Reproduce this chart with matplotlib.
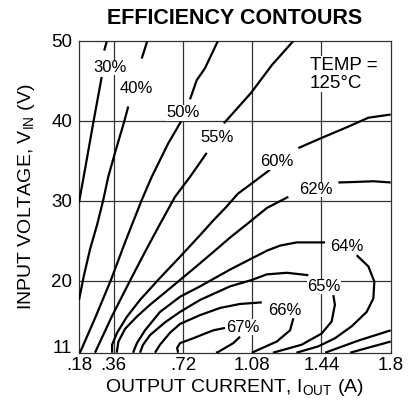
import numpy as np
import matplotlib.pyplot as plt

plt.rcParams['font.family'] = ['Liberation Sans', 'DejaVu Sans']

nan = np.nan

# contour traces: output current (A) vs input voltage (V)
# nan marks the break where the contour label sits
cur_30 = [0.325, 0.311, nan, 0.298, 0.256, 0.211, 0.18]
vin_30 = [50.0, 48.8, nan, 45.5, 40.0, 33.9, 29.8]

cur_40 = [0.535, 0.506, nan, 0.436, 0.416, 0.367, 0.332, 0.306, 0.274, 0.237, 0.206, 0.18]
vin_40 = [50.0, 47.8, nan, 41.8, 40.0, 36.0, 33.0, 30.1, 27.0, 23.9, 20.7, 17.6]

cur_50 = [0.902, 0.835, 0.792, 0.757, nan, 0.712, 0.644, 0.558, 0.506, 0.424, 0.346, 0.263, 0.185]
vin_50 = [50.0, 46.6, 45.1, 42.7, nan, 40.0, 37.2, 33.0, 30.1, 25.1, 20.1, 15.3, 11.0]

cur_55 = [1.294, 1.183, 1.074, 0.933, nan, 0.844, 0.757, 0.679, 0.601, 0.523, 0.445, 0.352, 0.263]
vin_55 = [50.0, 47.0, 43.5, 39.7, nan, 36.0, 33.0, 30.5, 27.1, 23.6, 20.0, 15.6, 11.0]

cur_60 = [1.80, 1.684, 1.562, 1.424, 1.320, nan, 1.173, 1.079, 1.006, 0.944, 0.876, 0.809,
          0.705, 0.591, 0.497, 0.429, 0.378, 0.352, 0.352]
vin_60 = [40.8, 40.4, 39.1, 37.7, 36.6, nan, 33.9, 32.2, 30.9, 29.2, 27.5, 25.7,
          23.0, 20.1, 17.6, 15.5, 13.5, 12.0, 11.0]

cur_62 = [1.80, 1.71, 1.60, 1.528, nan, 1.268, 1.156, 1.069, 0.970, 0.878, 0.790, 0.705,
          0.620, 0.549, 0.480, 0.42, 0.385, 0.376]
vin_62 = [32.3, 32.45, 32.35, 32.3, nan, 30.5, 29.1, 27.4, 25.5, 23.6, 21.8, 20.1,
          18.4, 17.0, 15.5, 14.0, 12.4, 11.0]

cur_64 = [0.461, 0.481, 0.523, 0.601, 0.705, 0.809, 0.965, 1.078, 1.160, 1.225, 1.311, 1.459, nan,
          1.623, 1.684, 1.715, 1.71, 1.675, 1.597, 1.510, 1.424, 1.31]
vin_64 = [11.0, 12.2, 13.8, 16.1, 18.0, 19.3, 21.4, 22.8, 23.8, 24.4, 24.8, 24.8, nan,
          23.2, 21.8, 19.9, 17.8, 16.1, 14.3, 12.8, 11.8, 11.0]

cur_65 = [0.497, 0.513, 0.549, 0.627, 0.705, 0.809, 0.965, 1.078, 1.156, 1.26, 1.372, nan,
          1.502, 1.51, 1.493, 1.441, 1.337, 1.188]
vin_65 = [11.0, 12.0, 13.2, 14.8, 16.1, 17.6, 19.3, 20.1, 20.8, 21.0, 20.7, nan,
          18.2, 17.0, 14.9, 13.4, 12.0, 11.0]

cur_66 = [0.575, 0.601, 0.653, 0.705, 0.809, 0.913, 1.017, 1.130, nan,
          1.294, 1.277, 1.208, 1.078]
vin_66 = [11.0, 12.0, 13.5, 14.6, 15.7, 16.6, 17.1, 17.3, nan,
          15.3, 13.8, 12.4, 11.0]

cur_67 = [0.695, 0.69, 0.705, 0.773, 0.835, 0.878, 0.939, nan, 1.017, 0.982, 0.904, 0.892]
vin_67 = [11.0, 11.6, 12.2, 12.8, 13.4, 13.8, 14.1, nan, 13.0, 12.2, 11.1, 11.0]

# unlabelled contours in the lower right corner
cur_62b = [1.459, 1.63, 1.80]
vin_62b = [11.0, 12.5, 13.8]
cur_60b = [1.589, 1.80]
vin_60b = [11.0, 12.4]

level_text = ['30%', '40%', '50%', '55%', '60%', '62%', '64%', '65%', '66%', '67%']
xticks = [0.18, 0.36, 0.72, 1.08, 1.44, 1.8]
xtick_labels = ['.18', '.36', '.72', '1.08', '1.44', '1.8']
yticks = [11, 20, 30, 40, 50]

fig = plt.figure(figsize=(4.14, 4.01), dpi=100)
ax = fig.add_axes([0.1908, 0.1204, 0.7529, 0.7774])

# grid
for gx in xticks[1:-1]:
    ax.axvline(gx, color='#333333', lw=0.9, zorder=1)
for gy in yticks[1:-1]:
    ax.axhline(gy, color='#333333', lw=0.9, zorder=1)

traces = [(cur_30, vin_30), (cur_40, vin_40), (cur_50, vin_50), (cur_55, vin_55),
          (cur_60, vin_60), (cur_62, vin_62), (cur_64, vin_64), (cur_65, vin_65),
          (cur_66, vin_66), (cur_67, vin_67), (cur_62b, vin_62b), (cur_60b, vin_60b)]
for xs, ys in traces:
    ax.plot(xs, ys, color='black', lw=1.6, solid_capstyle='butt',
            solid_joinstyle='round', zorder=3)

# label spots for each contour (current, voltage)
label_spots = [(0.341, 46.7), (0.48, 44.0), (0.719, 41.0), (0.90, 37.9), (1.207, 34.9),
               (1.41, 31.4), (1.571, 24.3), (1.453, 19.3), (1.25, 16.3), (1.034, 14.2)]
for txt, (lx, ly) in zip(level_text, label_spots):
    ax.text(lx, ly, txt, ha='center', va='center', fontsize=12, zorder=4,
            bbox=dict(facecolor='white', edgecolor='none', pad=0.3))

ax.text(1.381, 48.0, 'TEMP =\n125°C', ha='left', va='top', fontsize=13.5,
        linespacing=1.05, zorder=4,
        bbox=dict(facecolor='white', edgecolor='none', pad=0.5))

ax.set_xlim(0.18, 1.8)
ax.set_ylim(11, 50)
ax.set_xticks(xticks)
ax.set_xticklabels(xtick_labels)
ax.set_yticks(yticks)
ax.tick_params(length=0, labelsize=13.5)
ax.tick_params(axis='x', pad=3)
ax.tick_params(axis='y', pad=5)
# the bottom "11" sits on the axis line, clear of the ".18" below it
ax.get_yticklabels()[0].set_verticalalignment('baseline')
for sp in ax.spines.values():
    sp.set_linewidth(0.9)
    sp.set_color('#333333')

ax.set_xlabel('OUTPUT CURRENT, I$_{\\mathregular{OUT}}$ (A)', fontsize=14, labelpad=2)
ax.set_ylabel('INPUT VOLTAGE, V$_{\\mathregular{IN}}$ (V)', fontsize=14, labelpad=10)
ax.set_title('EFFICIENCY CONTOURS', fontsize=15.5, fontweight='bold', pad=12)

fig.savefig('out.png', dpi=100)
